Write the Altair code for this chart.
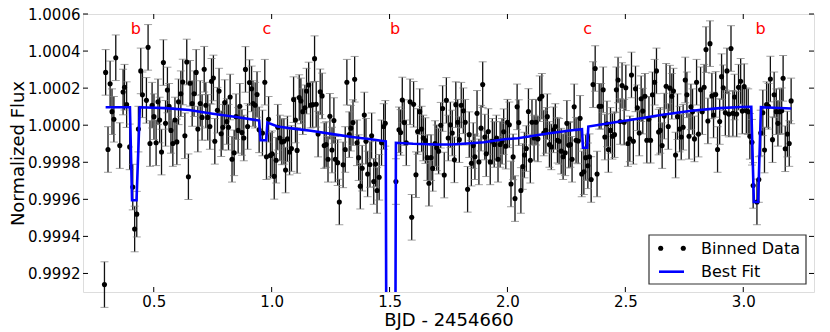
import altair as alt
import pandas as pd

# ---- binned data (BJD - 2454660, normalized flux) ----
time = [0.291, 0.296, 0.306, 0.315, 0.323, 0.331, 0.339, 0.356, 0.370, 0.376, 0.385, 0.398, 0.411, 0.419, 0.428, 0.435,
        0.445, 0.452, 0.469, 0.476, 0.484, 0.493, 0.501, 0.510, 0.518, 0.525, 0.533, 0.541, 0.550, 0.558, 0.565, 0.573,
        0.581, 0.590, 0.598, 0.605, 0.615, 0.623, 0.632, 0.640, 0.647, 0.654, 0.663, 0.671, 0.680, 0.687, 0.697, 0.705,
        0.714, 0.721, 0.729, 0.738, 0.745, 0.753, 0.759, 0.770, 0.777, 0.786, 0.793, 0.801, 0.810, 0.817, 0.824, 0.832,
        0.841, 0.849, 0.858, 0.865, 0.874, 0.882, 0.889, 0.898, 0.906, 0.915, 0.921, 0.930, 0.938, 0.947, 0.961, 0.971,
        0.978, 0.987, 0.995, 1.002, 1.011, 1.019, 1.026, 1.035, 1.043, 1.052, 1.059, 1.067, 1.076, 1.084, 1.093, 1.101,
        1.108, 1.117, 1.124, 1.132, 1.141, 1.148, 1.157, 1.165, 1.174, 1.182, 1.189, 1.197, 1.206, 1.214, 1.223, 1.231,
        1.239, 1.247, 1.256, 1.264, 1.270, 1.280, 1.287, 1.303, 1.312, 1.319, 1.329, 1.336, 1.345, 1.352, 1.362, 1.369,
        1.376, 1.384, 1.393, 1.400, 1.407, 1.417, 1.424, 1.433, 1.441, 1.447, 1.456, 1.466, 1.475, 1.482, 1.527, 1.540,
        1.547, 1.554, 1.562, 1.571, 1.587, 1.594, 1.602, 1.612, 1.619, 1.628, 1.636, 1.643, 1.652, 1.660, 1.667, 1.676,
        1.683, 1.693, 1.700, 1.708, 1.717, 1.725, 1.732, 1.741, 1.749, 1.758, 1.766, 1.775, 1.781, 1.789, 1.796, 1.804,
        1.813, 1.821, 1.831, 1.838, 1.847, 1.855, 1.862, 1.871, 1.879, 1.888, 1.895, 1.904, 1.910, 1.919, 1.927, 1.936,
        1.944, 1.953, 1.960, 1.969, 1.977, 1.984, 1.993, 2.000, 2.008, 2.015, 2.024, 2.032, 2.041, 2.048, 2.057, 2.065,
        2.072, 2.080, 2.089, 2.097, 2.104, 2.113, 2.121, 2.129, 2.137, 2.146, 2.154, 2.163, 2.169, 2.178, 2.186, 2.195,
        2.203, 2.212, 2.219, 2.228, 2.236, 2.245, 2.252, 2.260, 2.267, 2.274, 2.283, 2.291, 2.300, 2.308, 2.315, 2.324,
        2.332, 2.341, 2.348, 2.355, 2.363, 2.372, 2.380, 2.389, 2.397, 2.406, 2.413, 2.422, 2.428, 2.437, 2.445, 2.454,
        2.462, 2.469, 2.478, 2.486, 2.495, 2.502, 2.511, 2.519, 2.526, 2.534, 2.543, 2.551, 2.559, 2.567, 2.574, 2.583,
        2.591, 2.600, 2.607, 2.615, 2.624, 2.632, 2.641, 2.648, 2.656, 2.665, 2.673, 2.682, 2.689, 2.697, 2.704, 2.713,
        2.721, 2.730, 2.737, 2.745, 2.754, 2.761, 2.770, 2.778, 2.785, 2.793, 2.802, 2.810, 2.819, 2.826, 2.834, 2.842,
        2.850, 2.859, 2.867, 2.874, 2.883, 2.891, 2.900, 2.908, 2.915, 2.924, 2.931, 2.939, 2.948, 2.956, 2.963, 2.972,
        2.980, 2.989, 2.996, 3.004, 3.013, 3.021, 3.028, 3.037, 3.042, 3.058, 3.066, 3.074, 3.083, 3.090, 3.099, 3.107,
        3.115, 3.124, 3.131, 3.140, 3.147, 3.155, 3.163, 3.169, 3.178, 3.187, 3.195, 3.203]

flux = [0.999140, 1.000285, 0.999869, 1.000223, 1.000073, 1.000032, 1.000364, 0.999890, 1.000179, 1.000205, 1.000111,
        0.999883, 0.999666, 0.999440, 0.999520, 0.999979, 1.000293, 1.000164, 1.000134, 1.000420, 0.999901, 1.000108,
        1.000046, 0.999905, 1.000126, 1.000028, 0.999855, 1.000338, 1.000010, 1.000190, 1.000102, 0.999972, 0.999901,
        1.000028, 0.999910, 1.000126, 1.000170, 1.000233, 0.999943, 1.000341, 0.999722, 1.000226, 1.000117, 1.000170,
        1.000285, 0.999979, 1.000117, 1.000042, 1.000302, 1.000108, 1.000042, 0.999993, 1.000237, 1.000255, 0.999913,
        1.000081, 1.000184, 0.999954, 0.999989, 1.000122, 1.000020, 0.999989, 1.000152, 0.999816, 0.999851, 1.000046,
        0.999972, 1.000102, 0.999961, 0.999931, 1.000301, 0.999993, 1.000230, 1.000196, 1.000117, 1.000108, 1.000166,
        0.999975, 0.999958, 1.000232, 0.999830, 1.000032, 0.999837, 0.999846, 0.999724, 0.999811, 0.999989, 0.999931,
        0.999910, 0.999913, 0.999758, 0.999926, 0.999855, 0.999874, 1.000138, 1.000028, 0.999864, 1.000149, 1.000131,
        1.000073, 1.000094, 1.000184, 1.000217, 1.000108, 1.000111, 1.000359, 1.000113, 0.999952, 1.000180, 1.000158,
        0.999890, 0.999896, 0.999816, 1.000048, 0.999866, 1.000025, 0.999816, 0.999798, 0.999586, 0.999786, 0.999869,
        1.000232, 0.999949, 0.999984, 1.000014, 1.000248, 0.999905, 0.999825, 0.999671, 0.999768, 1.000055, 0.999913,
        0.999737, 0.999788, 0.999943, 0.999696, 0.999791, 0.999648, 0.999719, 0.999905, 0.999993, 1.000010, 0.999696,
        0.999975, 0.999961, 1.000136, 1.000014, 0.999905, 1.000126, 0.999503, 1.000113, 0.999733, 0.999966, 1.000073,
        0.999979, 0.999931, 0.999917, 0.999825, 0.999687, 0.999825, 0.999767, 0.999901, 0.999878, 0.999860, 1.000000,
        1.000090, 0.999731, 1.000134, 0.999931, 1.000002, 0.999958, 0.999813, 1.000111, 1.000016, 0.999922, 1.000108,
        1.000078, 1.000016, 0.999654, 0.999949, 0.999795, 0.999890, 0.999830, 1.000064, 0.999802, 0.999984, 1.000219,
        0.999936, 0.999846, 0.999966, 0.999802, 0.999913, 0.999896, 0.999931, 0.999816, 0.999896, 0.999913, 0.999965,
        0.999887, 1.000016, 1.000002, 0.999683, 0.999829, 0.999604, 1.000099, 1.000014, 0.999648, 0.999777, 0.999839,
        0.999874, 1.000074, 0.999811, 1.000016, 0.999931, 1.000016, 0.999926, 1.000143, 1.000156, 0.999958, 0.999972,
        1.000046, 0.999896, 0.999883, 0.999975, 0.999993, 0.999919, 0.999913, 0.999860, 0.999830, 0.999851, 1.000010,
        0.999892, 0.999896, 0.999816, 1.000099, 0.999919, 0.999915, 1.000037, 0.999737, 0.999749, 0.999825, 0.999781,
        0.999830, 0.999707, 1.000219, 1.000306, 0.999737, 1.000102, 1.000102, 1.000191, 0.999936, 1.000007, 0.999869,
        0.999972, 0.999940, 0.999949, 1.000191, 1.000244, 1.000020, 1.000214, 1.000016, 1.000202, 0.999901, 0.999926,
        1.000271, 0.999913, 1.000196, 1.000094, 0.999958, 1.000143, 1.000076, 1.000156, 0.999919, 1.000032, 0.999919,
        1.000164, 1.000232, 1.000293, 0.999963, 0.999972, 0.999890, 1.000049, 1.000210, 0.999993, 1.000200, 1.000156,
        1.000184, 0.999839, 1.000046, 0.999979, 0.999936, 0.999989, 1.000244, 1.000164, 0.999940, 1.000099, 1.000073,
        0.999926, 1.000232, 0.999952, 1.000191, 1.000073, 1.000205, 1.000408, 1.000023, 1.000440, 1.000158, 1.000055,
        1.000166, 0.999869, 1.000020, 1.000262, 1.000202, 1.000067, 1.000293, 1.000060, 1.000414, 1.000064, 1.000152,
        1.000060, 1.000205, 1.000237, 1.000076, 1.000208, 1.000078, 1.000073, 0.999940, 0.999908, 0.999675, 0.999586,
        0.999707, 0.999958, 1.000067, 0.999866, 1.000111, 1.000102, 1.000249, 0.999922, 1.000164, 1.000073, 1.000010,
        1.000073, 1.000078, 1.000253, 0.999873, 0.999952, 0.999901, 1.000131]

flux_err = 0.000123

# ---- best-fit model ----
fit_time = [0.296, 0.399, 0.408, 0.427, 0.441, 0.55, 0.65, 0.75, 0.85, 0.947, 0.953, 0.977, 0.982, 1.025, 1.10,
            1.166, 1.273, 1.35, 1.42, 1.484, 1.487, 1.524, 1.527, 1.60, 1.70, 1.76, 1.845, 1.90, 1.987, 2.044,
            2.17, 2.291, 2.316, 2.320, 2.338, 2.343, 2.45, 2.553, 2.65, 2.78, 2.90, 2.99, 3.034, 3.045, 3.063,
            3.075, 3.204]
fit_flux = [1.000097, 1.000097, 0.999595, 0.999595, 1.000097, 1.000092, 1.000082, 1.000062, 1.000044, 1.000025,
            0.999919, 0.999919, 1.000014, 0.999993, 0.999980, 0.999970, 0.999949, 0.999935, 0.999924, 0.999913,
            0.998500, 0.998500, 0.999905, 0.999900, 0.999896, 0.999896, 0.999903, 0.999908, 0.999924, 0.999930,
            0.999955, 0.999975, 0.999978, 0.999878, 0.999878, 0.999993, 1.000015, 1.000035, 1.000055, 1.000078,
            1.000092, 1.000098, 1.000099, 0.999586, 0.999586, 1.000097, 1.000090]

# ---- transit labels ----
label_time = [0.424, 0.980, 1.523, 2.340, 3.073]
label_text = ["b", "c", "b", "c", "b"]
label_flux = 1.00049

x_ticks = [0.5, 1.0, 1.5, 2.0, 2.5, 3.0]
y_ticks = [0.9992, 0.9994, 0.9996, 0.9998, 1.0000, 1.0002, 1.0004, 1.0006]

W, H = 731, 278
FONT = "DejaVu Sans"

xscale = alt.Scale(domain=[0.2, 3.3], nice=False, zero=False)
yscale = alt.Scale(domain=[0.9991, 1.0006], nice=False, zero=False)

data = pd.DataFrame({"t": time, "f": flux})
data["lo"] = data["f"] - flux_err
data["hi"] = data["f"] + flux_err
fit = pd.DataFrame({"t": fit_time, "f": fit_flux, "i": range(len(fit_time))})
labels = pd.DataFrame({"t": label_time, "txt": label_text, "f": [label_flux] * len(label_time)})
xt = pd.DataFrame({"t": x_ticks})
yt = pd.DataFrame({"f": y_ticks})

x_axis = alt.Axis(values=x_ticks, format=".1f", title="BJD - 2454660", grid=False, domain=False, ticks=False,
                  labelFontSize=15, labelPadding=2, titleFontSize=18, titleFontWeight="normal", titlePadding=2,
                  labelColor="black", titleColor="black", labelFont=FONT, titleFont=FONT)
y_axis = alt.Axis(values=y_ticks, format=".4f", title="Normalized Flux", grid=False, domain=False, ticks=False,
                  labelFontSize=15, labelPadding=3, titleFontSize=18, titleFontWeight="normal", titlePadding=0,
                  labelColor="black", titleColor="black", labelFont=FONT, titleFont=FONT)

def X(field):
    return alt.X(field, type="quantitative", scale=xscale, axis=x_axis, title="BJD - 2454660")

def Y(field):
    return alt.Y(field, type="quantitative", scale=yscale, axis=y_axis, title="Normalized Flux")

bars = alt.Chart(data).mark_rule(color="#111111", strokeWidth=1.3).encode(
    x=X("t"), y=Y("lo"), y2="hi")
caps_lo = alt.Chart(data).mark_tick(orient="horizontal", size=8, thickness=1, color="#777777").encode(
    x=X("t"), y=Y("lo"))
caps_hi = alt.Chart(data).mark_tick(orient="horizontal", size=8, thickness=1, color="#777777").encode(
    x=X("t"), y=Y("hi"))
pts = alt.Chart(data).mark_circle(size=26, color="black", opacity=1).encode(x=X("t"), y=Y("f"))
line = alt.Chart(fit).mark_line(color="#0000ff", strokeWidth=2.6, clip=True).encode(
    x=X("t"), y=Y("f"), order="i")
txt = alt.Chart(labels).mark_text(color="#ff0000", fontSize=16, font=FONT, baseline="alphabetic",
                                  align="center").encode(x=X("t"), y=Y("f"), text="txt")

TL = 5
tick_b = alt.Chart(xt).mark_rule(color="black", strokeWidth=1).encode(
    x=X("t"), y=alt.value(H), y2=alt.value(H - TL))
tick_t = alt.Chart(xt).mark_rule(color="black", strokeWidth=1).encode(
    x=X("t"), y=alt.value(0), y2=alt.value(TL))
tick_l = alt.Chart(yt).mark_rule(color="black", strokeWidth=1).encode(
    y=Y("f"), x=alt.value(0), x2=alt.value(TL))
tick_r = alt.Chart(yt).mark_rule(color="black", strokeWidth=1).encode(
    y=Y("f"), x=alt.value(W - TL), x2=alt.value(W))

# ---- legend (drawn in plot pixel space) ----
one = pd.DataFrame({"k": [0]})
leg_box = alt.Chart(one).mark_rect(fill="white", stroke="#333333", strokeWidth=1.2).encode(
    x=alt.value(566), x2=alt.value(723), y=alt.value(221), y2=alt.value(270))
leg_dot1 = alt.Chart(one).mark_circle(size=26, color="black", opacity=1).encode(
    x=alt.value(577.7), y=alt.value(234.3))
leg_dot2 = alt.Chart(one).mark_circle(size=26, color="black", opacity=1).encode(
    x=alt.value(600.3), y=alt.value(234.3))
leg_line = alt.Chart(one).mark_rule(color="#0000ff", strokeWidth=2.6).encode(
    x=alt.value(576), x2=alt.value(601), y=alt.value(257.7))
leg_t1 = alt.Chart(one).mark_text(text="Binned Data", align="left", baseline="alphabetic", fontSize=16,
                                  font=FONT, color="black").encode(x=alt.value(618), y=alt.value(240))
leg_t2 = alt.Chart(one).mark_text(text="Best Fit", align="left", baseline="alphabetic", fontSize=16,
                                  font=FONT, color="black").encode(x=alt.value(618), y=alt.value(263.3))

chart = alt.layer(
    bars, caps_lo, caps_hi, pts, line, txt, tick_b, tick_t, tick_l, tick_r,
    leg_box, leg_dot1, leg_dot2, leg_line, leg_t1, leg_t2
).properties(
    width=W, height=H,
    autosize=alt.AutoSizeParams(type="none"),
    padding={"left": 75, "top": 6, "right": 8, "bottom": 42},
    background="white",
).configure_view(
    stroke="black", strokeWidth=1.6
).configure(font=FONT)

chart.save("out.html", embed_options={"renderer": "svg", "actions": False})
